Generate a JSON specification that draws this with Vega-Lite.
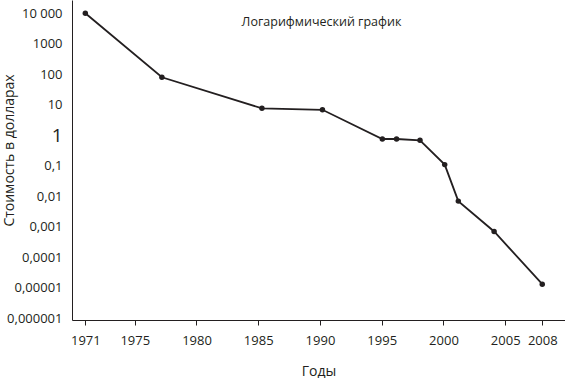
{
  "$schema": "https://vega.github.io/schema/vega-lite/v6.json",
  "autosize": {"type": "none"},
  "padding": {"left": 72, "top": 0, "right": 0, "bottom": 58},
  "width": 493,
  "height": 320,
  "background": "white",
  "title": {
    "text": "Логарифмический график",
    "anchor": "middle",
    "frame": "group",
    "baseline": "middle",
    "offset": 0,
    "dx": 3,
    "dy": 34,
    "font": "Open Sans",
    "fontSize": 12.5,
    "fontWeight": "normal",
    "color": "#231f20"
  },
  "config": {
    "view": {"stroke": null},
    "axis": {
      "labelFont": "Open Sans",
      "titleFont": "Open Sans",
      "labelColor": "#231f20",
      "titleColor": "#231f20",
      "domainColor": "#231f20",
      "tickColor": "#231f20",
      "grid": false,
      "titleFontWeight": "normal"
    }
  },
  "data": {
    "values": [
      {"year": 1971, "cost": 10000},
      {"year": 1977.2, "cost": 80},
      {"year": 1985.3, "cost": 7.7},
      {"year": 1990.2, "cost": 6.9},
      {"year": 1995.05, "cost": 0.76},
      {"year": 1996.2, "cost": 0.76},
      {"year": 1998.1, "cost": 0.69},
      {"year": 2000.1, "cost": 0.11},
      {"year": 2001.2, "cost": 0.007},
      {"year": 2004.1, "cost": 0.00071},
      {"year": 2008, "cost": 0.0000133}
    ]
  },
  "encoding": {
    "x": {
      "field": "year",
      "type": "quantitative",
      "scale": {"domain": [1969.92, 2009.84], "nice": false, "zero": false},
      "axis": {
        "title": "Годы",
        "values": [1971, 1975, 1980, 1985, 1990, 1995, 2000, 2005, 2008],
        "format": "d",
        "labelFontSize": 13,
        "titleFontSize": 14,
        "tickSize": 5,
        "labelPadding": 9,
        "titleY": 51,
        "titleBaseline": "middle",
        "labelFlush": false,
        "labelOverlap": false
      }
    },
    "y": {
      "field": "cost",
      "type": "quantitative",
      "scale": {"type": "log", "domain": [8.9e-7, 27300], "nice": false},
      "axis": {
        "title": "Стоимость в долларах",
        "values": [0.000001, 0.00001, 0.0001, 0.001, 0.01, 0.1, 1, 10, 100, 1000, 10000],
        "labelExpr": "datum.value >= 10000 ? '10 000' : datum.value >= 1 ? format(datum.value, 'd') : replace(format(datum.value, '.6~f'), '.', ',')",
        "labelFontSize": {"condition": {"test": "datum.value == 1", "value": 19}, "value": 13},
        "ticks": false,
        "labelPadding": 10,
        "titleFontSize": 14,
        "titleX": -63,
        "titleY": 150,
        "titleAlign": "center",
        "titleBaseline": "middle",
        "labelOverlap": false,
        "labelFlush": false
      }
    }
  },
  "layer": [
    {"mark": {"type": "line", "color": "#231f20", "strokeWidth": 1.8}},
    {"mark": {"type": "point", "filled": true, "color": "#231f20", "size": 30, "opacity": 1}}
  ]
}
